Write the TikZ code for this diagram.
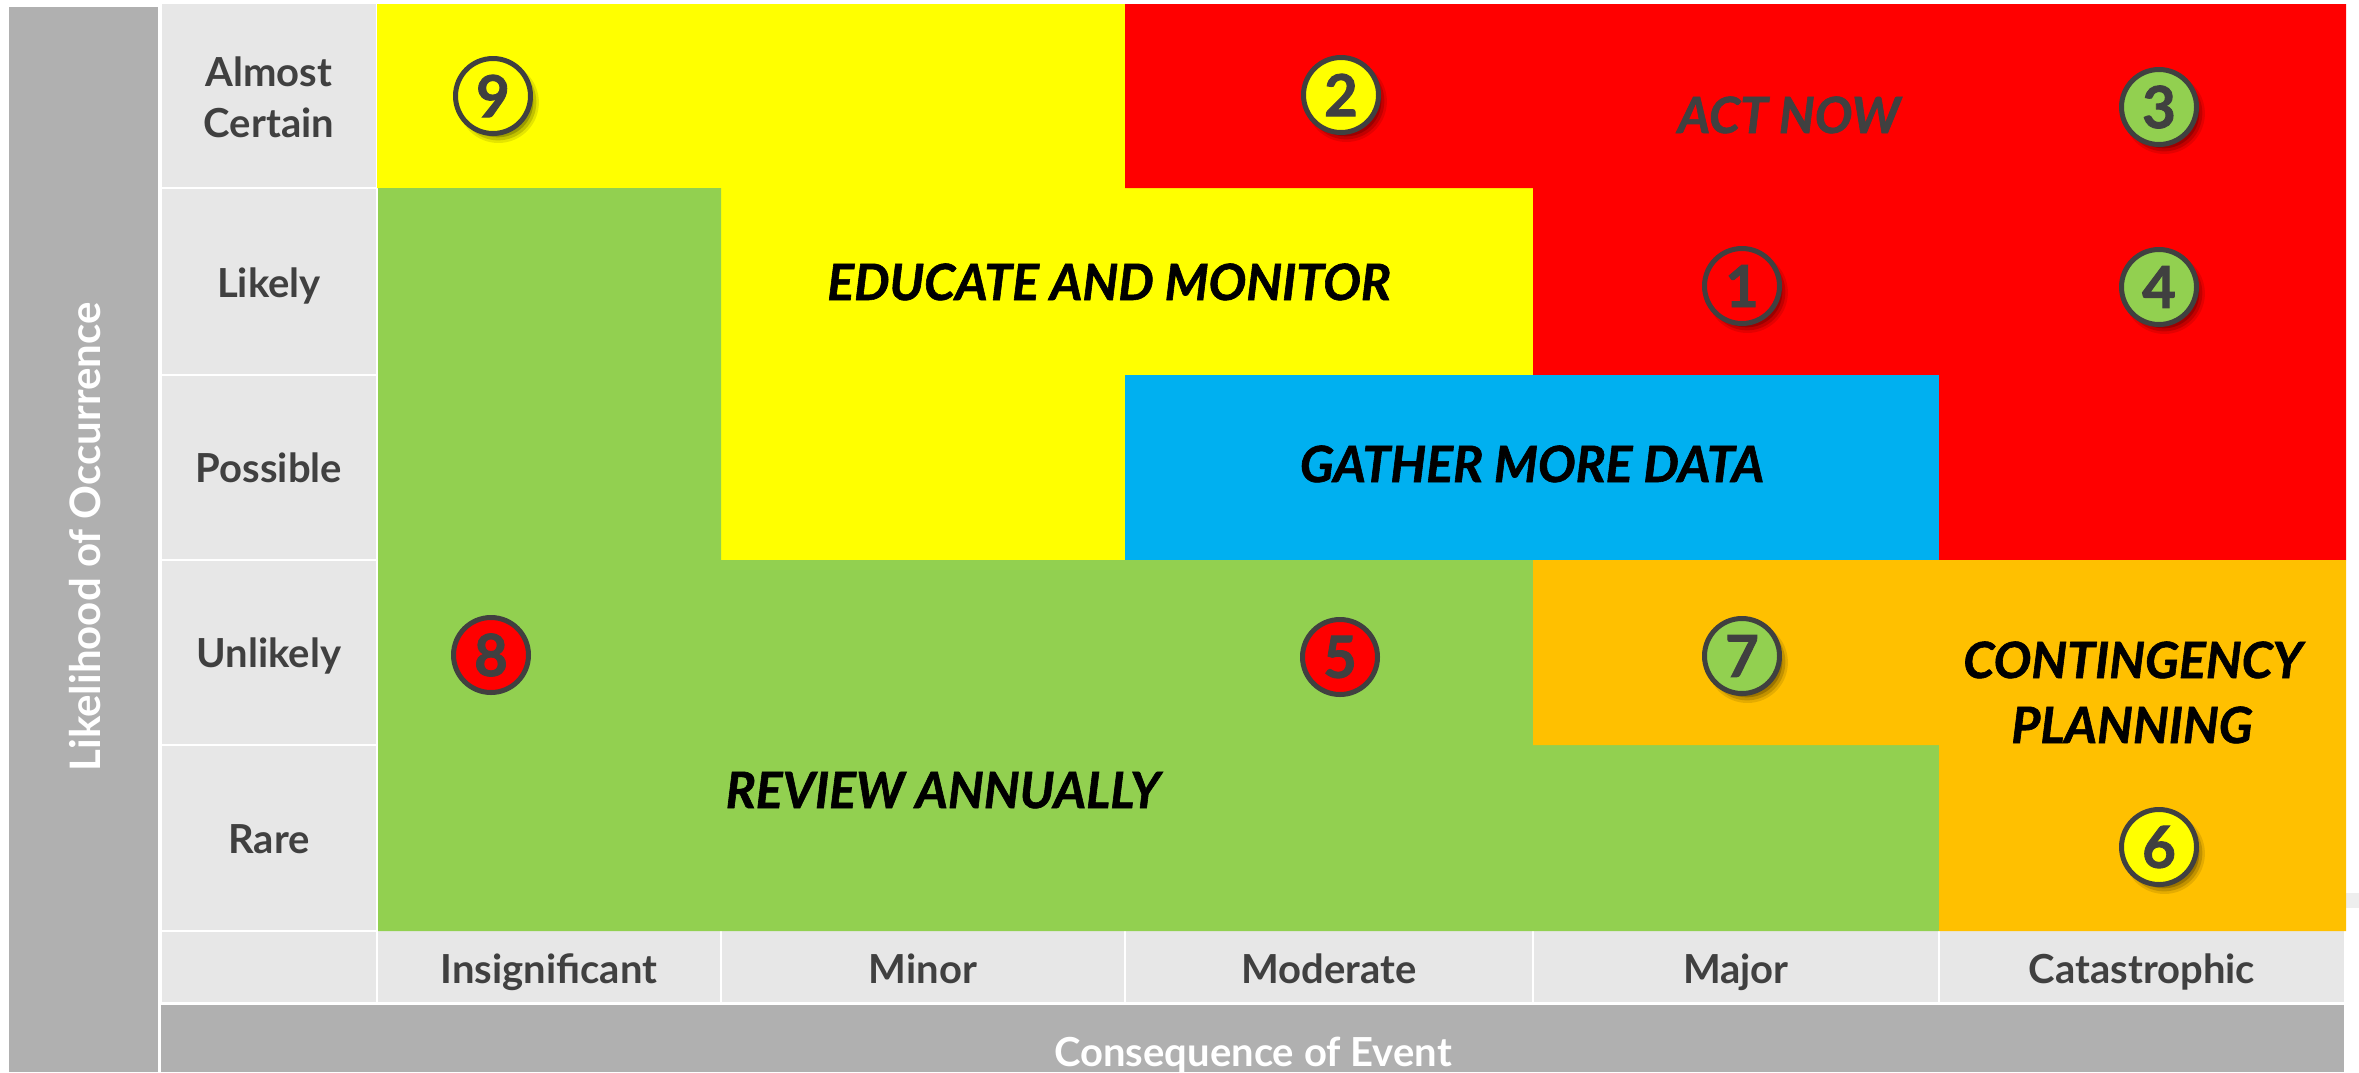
\documentclass[tikz,border=0pt]{standalone}
\usepackage{fontspec}
\setmainfont{Lato}
\newfontfamily\zonefont[BoldItalicFeatures={FakeBold=1.2}]{Lato}
\newfontfamily\digfont[BoldFeatures={FakeBold=1.5}]{Lato}
\usetikzlibrary{shadows}
\definecolor{cyel}{HTML}{FFFF00}
\definecolor{cred}{HTML}{FF0000}
\definecolor{cgreen}{HTML}{92D050}
\definecolor{cblue}{HTML}{00B0F0}
\definecolor{corange}{HTML}{FFC000}
\definecolor{barg}{HTML}{B0B0B0}
\definecolor{cellg}{HTML}{E7E7E7}
\definecolor{dgrey}{HTML}{404040}
\definecolor{stripg}{HTML}{EEEEEE}
\tikzset{
  lab/.style={anchor=base, inner sep=0pt, text=dgrey, font=\fontsize{40}{44}\selectfont\bfseries},
  axt/.style={anchor=base, inner sep=0pt, text=white, font=\fontsize{40}{44}\selectfont\bfseries},
  zone/.style={anchor=base, inner sep=0pt, text=black, font=\zonefont\fontsize{50}{54}\selectfont\bfseries\itshape},
  badge/.style={circle, inner sep=0pt, minimum size=75pt, line width=5pt, draw=dgrey,
    text=dgrey, font=\digfont\fontsize{58}{60}\selectfont\bfseries},
  shad/.style={general shadow={fill=black, opacity=0.10, shadow xshift=5pt, shadow yshift=-6pt, shadow scale=1.08},
    general shadow={fill=black, opacity=0.15, shadow xshift=5pt, shadow yshift=-6pt, shadow scale=1.02},
    general shadow={fill=black, opacity=0.20, shadow xshift=5pt, shadow yshift=-6pt, shadow scale=0.95}}
}
\begin{document}
\begin{tikzpicture}[x=1pt,y=-1pt]
\useasboundingbox (0,0) rectangle (2359,1072);
\fill[white] (0,0) rectangle (2359,1072);
% grey axis bars
\fill[barg] (9,7) rectangle (158,1072);
\fill[barg] (161,1005) rectangle (2344,1072);
% label column cells
\foreach \a/\b in {4/187, 189/374, 376/559, 561/744, 746/930, 932/1002}
  \fill[cellg] (162,\a) rectangle (376,\b);
% bottom label cells
\foreach \a/\b in {378/720, 722/1124, 1126/1532, 1534/1938, 1940/2344}
  \fill[cellg] (\a,931) rectangle (\b,1002);
% small strip at right
\fill[stripg] (2346,893) rectangle (2359,908);
% coloured zones
\fill[cyel] (377,4) -- (1125,4) -- (1125,188) -- (1533,188) -- (1533,375) -- (1125,375) -- (1125,560) -- (721,560) -- (721,188) -- (377,188) -- cycle;
\fill[cred] (1125,4) -- (2346,4) -- (2346,560) -- (1939,560) -- (1939,375) -- (1533,375) -- (1533,188) -- (1125,188) -- cycle;
\fill[cblue] (1125,375) rectangle (1939,560);
\fill[cgreen] (378,188) -- (721,188) -- (721,560) -- (1533,560) -- (1533,745) -- (1939,745) -- (1939,931) -- (378,931) -- cycle;
\fill[corange] (1533,560) -- (2346,560) -- (2346,931) -- (1939,931) -- (1939,745) -- (1533,745) -- cycle;
% row labels
\node[lab] (ac1) at (269,86) {Almost};
\node[lab] (ac2) at (269,137) {Certain};
\node[lab] (li) at (269,297) {Likely};
\node[lab] (po) at (269,482) {Possible};
\node[lab] (un) at (269,667) {Unlikely};
\node[lab] (ra) at (269,853) {Rare};
% column labels
\node[lab] (ins) at (549,983) {Insignificant};
\node[lab] (min) at (923,983) {Minor};
\node[lab] (mod) at (1329,983) {Moderate};
\node[lab] (maj) at (1736,983) {Major};
\node[lab] (cat) at (2142,983) {Catastrophic};
% axis titles
\node[axt, rotate=90, font=\fontsize{42}{44}\selectfont\bfseries] (ylab) at (100,537) {Likelihood of Occurrence};
\node[axt] (xlab) at (1253,1066) {Consequence of Event};
% zone texts
\node[zone] (edu) at (1109,300) {EDUCATE AND MONITOR};
\node[zone] (gat) at (1532,482) {GATHER MORE DATA};
\node[zone] (rev) at (943,808) {REVIEW ANNUALLY};
\node[zone, text=dgrey] (act) at (1789,133) {ACT NOW};
\node[zone] (con1) at (2133,678) {CONTINGENCY};
\node[zone] (con2) at (2132,743) {PLANNING};
% badges
\node[badge, shad, fill=cyel] (b9) at (493,96) {9};
\node[badge, shad, fill=cyel] (b2) at (1341,95) {2};
\node[badge, shad, fill=cgreen] (b3) at (2159,107) {3};
\node[badge, shad, fill=cred] (b1) at (1742,286) {1};
\node[badge, shad, fill=cgreen] (b4) at (2159,287) {4};
\node[badge, fill=cred] (b8) at (491,655) {8};
\node[badge, fill=cred] (b5) at (1340,657) {5};
\node[badge, shad, fill=cgreen] (b7) at (1742,656) {7};
\node[badge, shad, fill=cyel] (b6) at (2159,847) {6};
\end{tikzpicture}
\end{document}
